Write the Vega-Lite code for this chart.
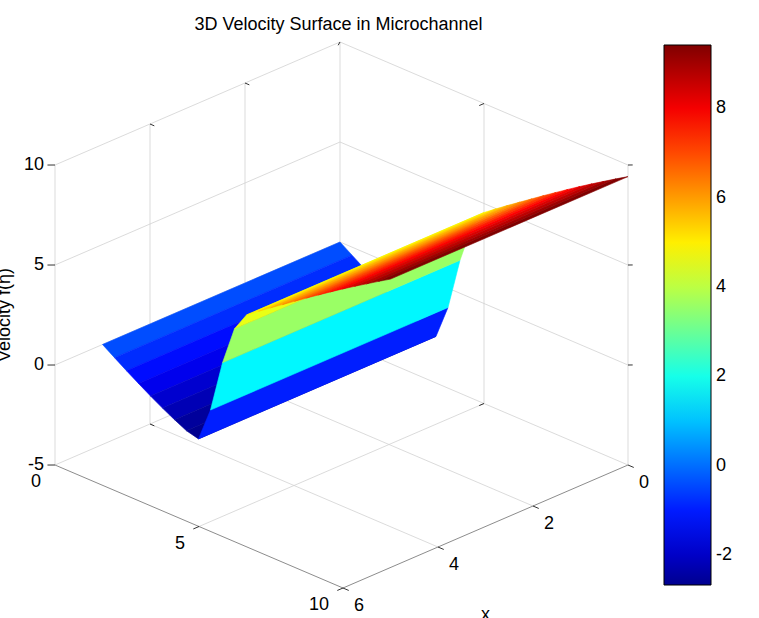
{
  "$schema": "https://vega.github.io/schema/vega-lite/v6.json",
  "width": 759,
  "height": 618,
  "autosize": {"type": "none"},
  "padding": 0,
  "background": "white",
  "title": {
    "text": "3D Velocity Surface in Microchannel",
    "fontSize": 18,
    "fontWeight": "normal",
    "font": "Liberation Sans",
    "color": "black",
    "anchor": "middle",
    "offset": -34,
    "dx": -41
  },
  "datasets": {
    "surface": [
      {"eta": 0.000, "f": 0.00},
      {"eta": 0.417, "f": -0.40},
      {"eta": 0.833, "f": -0.80},
      {"eta": 1.250, "f": -1.18},
      {"eta": 1.667, "f": -1.55},
      {"eta": 2.083, "f": -1.90},
      {"eta": 2.500, "f": -2.22},
      {"eta": 2.917, "f": -2.52},
      {"eta": 3.333, "f": -2.67},
      {"eta": 3.750, "f": -0.97},
      {"eta": 4.167, "f": 1.65},
      {"eta": 4.583, "f": 3.60},
      {"eta": 5.000, "f": 4.55},
      {"eta": 5.417, "f": 4.99},
      {"eta": 5.833, "f": 5.42},
      {"eta": 6.250, "f": 5.84},
      {"eta": 6.667, "f": 6.26},
      {"eta": 7.083, "f": 6.68},
      {"eta": 7.500, "f": 7.09},
      {"eta": 7.917, "f": 7.50},
      {"eta": 8.333, "f": 7.90},
      {"eta": 8.750, "f": 8.29},
      {"eta": 9.167, "f": 8.67},
      {"eta": 9.583, "f": 9.05},
      {"eta": 10.000, "f": 9.42}
    ],
    "frame": [
      {"kind": "grid", "x1": 0, "e1": 0, "z1": -5, "x2": 0, "e2": 0, "z2": 10},
      {"kind": "grid", "x1": 2, "e1": 0, "z1": -5, "x2": 2, "e2": 0, "z2": 10},
      {"kind": "grid", "x1": 4, "e1": 0, "z1": -5, "x2": 4, "e2": 0, "z2": 10},
      {"kind": "grid", "x1": 6, "e1": 0, "z1": -5, "x2": 6, "e2": 0, "z2": 10},
      {"kind": "grid", "x1": 0, "e1": 0, "z1": -5, "x2": 6, "e2": 0, "z2": -5},
      {"kind": "grid", "x1": 0, "e1": 0, "z1": 0, "x2": 6, "e2": 0, "z2": 0},
      {"kind": "grid", "x1": 0, "e1": 0, "z1": 5, "x2": 6, "e2": 0, "z2": 5},
      {"kind": "grid", "x1": 0, "e1": 0, "z1": 10, "x2": 6, "e2": 0, "z2": 10},
      {"kind": "grid", "x1": 0, "e1": 5, "z1": -5, "x2": 0, "e2": 5, "z2": 10},
      {"kind": "grid", "x1": 0, "e1": 10, "z1": -5, "x2": 0, "e2": 10, "z2": 10},
      {"kind": "grid", "x1": 0, "e1": 0, "z1": -5, "x2": 0, "e2": 10, "z2": -5},
      {"kind": "grid", "x1": 0, "e1": 0, "z1": 0, "x2": 0, "e2": 10, "z2": 0},
      {"kind": "grid", "x1": 0, "e1": 0, "z1": 5, "x2": 0, "e2": 10, "z2": 5},
      {"kind": "grid", "x1": 0, "e1": 0, "z1": 10, "x2": 0, "e2": 10, "z2": 10},
      {"kind": "grid", "x1": 2, "e1": 0, "z1": -5, "x2": 2, "e2": 10, "z2": -5},
      {"kind": "grid", "x1": 4, "e1": 0, "z1": -5, "x2": 4, "e2": 10, "z2": -5},
      {"kind": "grid", "x1": 0, "e1": 5, "z1": -5, "x2": 6, "e2": 5, "z2": -5},
      {"kind": "axis", "x1": 6, "e1": 0, "z1": -5, "x2": 6, "e2": 10, "z2": -5},
      {"kind": "axis", "x1": 0, "e1": 10, "z1": -5, "x2": 6, "e2": 10, "z2": -5},
      {"kind": "tick", "x1": 6, "e1": 0, "z1": -5, "x2": 6.08, "e2": -0.13, "z2": -5},
      {"kind": "tick", "x1": 6, "e1": 0, "z1": 0, "x2": 6.08, "e2": -0.13, "z2": 0},
      {"kind": "tick", "x1": 6, "e1": 0, "z1": 5, "x2": 6.08, "e2": -0.13, "z2": 5},
      {"kind": "tick", "x1": 6, "e1": 0, "z1": 10, "x2": 6.08, "e2": -0.13, "z2": 10},
      {"kind": "tick", "x1": 0, "e1": 10, "z1": 0, "x2": -0.05, "e2": 10.08, "z2": 0},
      {"kind": "tick", "x1": 0, "e1": 10, "z1": 5, "x2": -0.05, "e2": 10.08, "z2": 5},
      {"kind": "tick", "x1": 0, "e1": 10, "z1": 10, "x2": -0.05, "e2": 10.08, "z2": 10},
      {"kind": "tick", "x1": 0, "e1": 10, "z1": -5, "x2": 0, "e2": 10.2, "z2": -5},
      {"kind": "tick", "x1": 2, "e1": 10, "z1": -5, "x2": 2, "e2": 10.2, "z2": -5},
      {"kind": "tick", "x1": 4, "e1": 10, "z1": -5, "x2": 4, "e2": 10.2, "z2": -5},
      {"kind": "tick", "x1": 6, "e1": 10, "z1": -5, "x2": 6, "e2": 10.2, "z2": -5},
      {"kind": "tick", "x1": 6, "e1": 5, "z1": -5, "x2": 6.12, "e2": 5, "z2": -5},
      {"kind": "tick", "x1": 6, "e1": 10, "z1": -5, "x2": 6.12, "e2": 10, "z2": -5},
      {"kind": "tick", "x1": 2, "e1": 0, "z1": 10, "x2": 2, "e2": 0.15, "z2": 10},
      {"kind": "tick", "x1": 4, "e1": 0, "z1": 10, "x2": 4, "e2": 0.15, "z2": 10},
      {"kind": "tick", "x1": 0, "e1": 5, "z1": 10, "x2": 0.1, "e2": 5, "z2": 10},
      {"kind": "tick", "x1": 0, "e1": 0, "z1": 10, "x2": 0.1, "e2": 0.1, "z2": 10},
      {"kind": "tick", "x1": 2, "e1": 0, "z1": -5, "x2": 2, "e2": 0.15, "z2": -5},
      {"kind": "tick", "x1": 4, "e1": 0, "z1": -5, "x2": 4, "e2": 0.15, "z2": -5},
      {"kind": "tick", "x1": 0, "e1": 5, "z1": -5, "x2": 0.1, "e2": 5, "z2": -5}
    ],
    "labels": [
      {"kind": "z", "x": 6, "e": 0, "z": 10, "t": "10"},
      {"kind": "z", "x": 6, "e": 0, "z": 5, "t": "5"},
      {"kind": "z", "x": 6, "e": 0, "z": 0, "t": "0"},
      {"kind": "z", "x": 6, "e": 0, "z": -5, "t": "-5"},
      {"kind": "eta", "x": 6, "e": 0, "z": -5, "t": "0"},
      {"kind": "eta", "x": 6, "e": 5, "z": -5, "t": "5"},
      {"kind": "eta", "x": 6, "e": 10, "z": -5, "t": "10"},
      {"kind": "x", "x": 0, "e": 10, "z": -5, "t": "0"},
      {"kind": "x", "x": 2, "e": 10, "z": -5, "t": "2"},
      {"kind": "x", "x": 4, "e": 10, "z": -5, "t": "4"},
      {"kind": "x", "x": 6, "e": 10, "z": -5, "t": "6"},
      {"kind": "ztitle", "x": 6, "e": 0, "z": 2.5, "t": "Velocity f(η)"},
      {"kind": "xtitle", "x": 3, "e": 10, "z": -5, "t": "x"}
    ]
  },
  "layer": [
    {
      "data": {"name": "frame"},
      "transform": [
        {"calculate": "28.8 * datum.e1 - 47.5 * datum.x1", "as": "u1"},
        {"calculate": "20 * (datum.z1 + 5) - 20.5 * datum.x1 - 12.3 * datum.e1", "as": "v1"},
        {"calculate": "28.8 * datum.e2 - 47.5 * datum.x2", "as": "u2"},
        {"calculate": "20 * (datum.z2 + 5) - 20.5 * datum.x2 - 12.3 * datum.e2", "as": "v2"}
      ],
      "mark": {"type": "rule", "strokeWidth": 0.8},
      "encoding": {
        "x": {"field": "u1", "type": "quantitative", "scale": {"domain": [-340, 419], "nice": false, "zero": false}, "axis": null},
        "x2": {"field": "u2"},
        "y": {"field": "v1", "type": "quantitative", "scale": {"domain": [-276, 342], "nice": false, "zero": false}, "axis": null},
        "y2": {"field": "v2"},
        "color": {
          "field": "kind",
          "type": "nominal",
          "scale": {"domain": ["grid", "axis", "tick"], "range": ["#d2d2d2", "#6e6e6e", "#000000"]},
          "legend": null
        }
      }
    },
    {
      "data": {"name": "surface"},
      "transform": [
        {
          "window": [
            {"op": "lead", "field": "eta", "as": "eta1"},
            {"op": "lead", "field": "f", "as": "f1"}
          ],
          "sort": [{"field": "eta", "order": "ascending"}]
        },
        {"filter": "isValid(datum.eta1)"},
        {"calculate": "[0, 1, 2, 3]", "as": "k"},
        {"flatten": ["k"]},
        {"calculate": "(datum.k == 1 || datum.k == 2) ? 5 : 0", "as": "xv"},
        {"calculate": "datum.k < 2 ? datum.eta : datum.eta1", "as": "ev"},
        {"calculate": "datum.k < 2 ? datum.f : datum.f1", "as": "zv"},
        {"calculate": "28.8 * datum.ev - 47.5 * datum.xv", "as": "u"},
        {"calculate": "20 * (datum.zv + 5) - 20.5 * datum.xv - 12.3 * datum.ev", "as": "v"}
      ],
      "mark": {
        "type": "line",
        "interpolate": "linear-closed",
        "strokeWidth": 0.6,
        "strokeJoin": "round",
        "stroke": {"expr": "scale('fill', datum.f1)"}
      },
      "encoding": {
        "x": {"field": "u", "type": "quantitative", "scale": {"domain": [-340, 419], "nice": false, "zero": false}, "axis": null},
        "y": {"field": "v", "type": "quantitative", "scale": {"domain": [-276, 342], "nice": false, "zero": false}, "axis": null},
        "order": {"field": "k", "type": "quantitative"},
        "detail": {"field": "eta", "type": "nominal"},
        "fill": {
          "field": "f1",
          "type": "quantitative",
          "scale": {
            "domain": [-2.67, -1.33, 1.74, 4.81, 7.88, 9.42],
            "range": ["#00008f", "#0000ff", "#00ffff", "#ffff00", "#ff0000", "#800000"],
            "interpolate": "rgb"
          },
          "legend": {
            "type": "gradient",
            "orient": "none",
            "legendX": 664,
            "legendY": 45,
            "direction": "vertical",
            "gradientLength": 540,
            "gradientThickness": 47,
            "gradientStrokeColor": "black",
            "gradientStrokeWidth": 1,
            "values": [-2, 0, 2, 4, 6, 8],
            "labelExpr": "'' + datum.value",
            "title": null,
            "labelFont": "Liberation Sans",
            "labelFontSize": 18,
            "labelColor": "black",
            "labelOffset": 5,
            "labelOverlap": false,
            "labelFlush": false,
            "padding": 0
          }
        }
      }
    },
    {
      "data": {"name": "labels"},
      "transform": [
        {"filter": "datum.kind == 'z'"},
        {"calculate": "28.8 * datum.e - 47.5 * datum.x", "as": "u"},
        {"calculate": "20 * (datum.z + 5) - 20.5 * datum.x - 12.3 * datum.e", "as": "v"}
      ],
      "mark": {"type": "text", "align": "right", "baseline": "middle", "dx": -11, "fontSize": 18, "font": "Liberation Sans", "color": "black"},
      "encoding": {
        "x": {"field": "u", "type": "quantitative", "scale": {"domain": [-340, 419], "nice": false, "zero": false}, "axis": null},
        "y": {"field": "v", "type": "quantitative", "scale": {"domain": [-276, 342], "nice": false, "zero": false}, "axis": null},
        "text": {"field": "t"}
      }
    },
    {
      "data": {"name": "labels"},
      "transform": [
        {"filter": "datum.kind == 'eta'"},
        {"calculate": "28.8 * datum.e - 47.5 * datum.x", "as": "u"},
        {"calculate": "20 * (datum.z + 5) - 20.5 * datum.x - 12.3 * datum.e", "as": "v"}
      ],
      "mark": {"type": "text", "align": "right", "baseline": "middle", "dx": -14, "dy": 17, "fontSize": 18, "font": "Liberation Sans", "color": "black"},
      "encoding": {
        "x": {"field": "u", "type": "quantitative", "scale": {"domain": [-340, 419], "nice": false, "zero": false}, "axis": null},
        "y": {"field": "v", "type": "quantitative", "scale": {"domain": [-276, 342], "nice": false, "zero": false}, "axis": null},
        "text": {"field": "t"}
      }
    },
    {
      "data": {"name": "labels"},
      "transform": [
        {"filter": "datum.kind == 'x'"},
        {"calculate": "28.8 * datum.e - 47.5 * datum.x", "as": "u"},
        {"calculate": "20 * (datum.z + 5) - 20.5 * datum.x - 12.3 * datum.e", "as": "v"}
      ],
      "mark": {"type": "text", "align": "left", "baseline": "middle", "dx": 11, "dy": 17.5, "fontSize": 18, "font": "Liberation Sans", "color": "black"},
      "encoding": {
        "x": {"field": "u", "type": "quantitative", "scale": {"domain": [-340, 419], "nice": false, "zero": false}, "axis": null},
        "y": {"field": "v", "type": "quantitative", "scale": {"domain": [-276, 342], "nice": false, "zero": false}, "axis": null},
        "text": {"field": "t"}
      }
    },
    {
      "data": {"name": "labels"},
      "transform": [
        {"filter": "datum.kind == 'ztitle'"},
        {"calculate": "28.8 * datum.e - 47.5 * datum.x", "as": "u"},
        {"calculate": "20 * (datum.z + 5) - 20.5 * datum.x - 12.3 * datum.e", "as": "v"}
      ],
      "mark": {"type": "text", "align": "center", "baseline": "alphabetic", "angle": 270, "dy": -45, "fontSize": 18, "font": "Liberation Sans", "color": "black"},
      "encoding": {
        "x": {"field": "u", "type": "quantitative", "scale": {"domain": [-340, 419], "nice": false, "zero": false}, "axis": null},
        "y": {"field": "v", "type": "quantitative", "scale": {"domain": [-276, 342], "nice": false, "zero": false}, "axis": null},
        "text": {"field": "t"}
      }
    },
    {
      "data": {"name": "labels"},
      "transform": [
        {"filter": "datum.kind == 'xtitle'"},
        {"calculate": "28.8 * datum.e - 47.5 * datum.x", "as": "u"},
        {"calculate": "20 * (datum.z + 5) - 20.5 * datum.x - 12.3 * datum.e", "as": "v"}
      ],
      "mark": {"type": "text", "align": "center", "baseline": "alphabetic", "dy": 93, "fontSize": 18, "font": "Liberation Sans", "color": "black"},
      "encoding": {
        "x": {"field": "u", "type": "quantitative", "scale": {"domain": [-340, 419], "nice": false, "zero": false}, "axis": null},
        "y": {"field": "v", "type": "quantitative", "scale": {"domain": [-276, 342], "nice": false, "zero": false}, "axis": null},
        "text": {"field": "t"}
      }
    }
  ],
  "config": {
    "view": {"stroke": null},
    "font": "Liberation Sans"
  }
}
